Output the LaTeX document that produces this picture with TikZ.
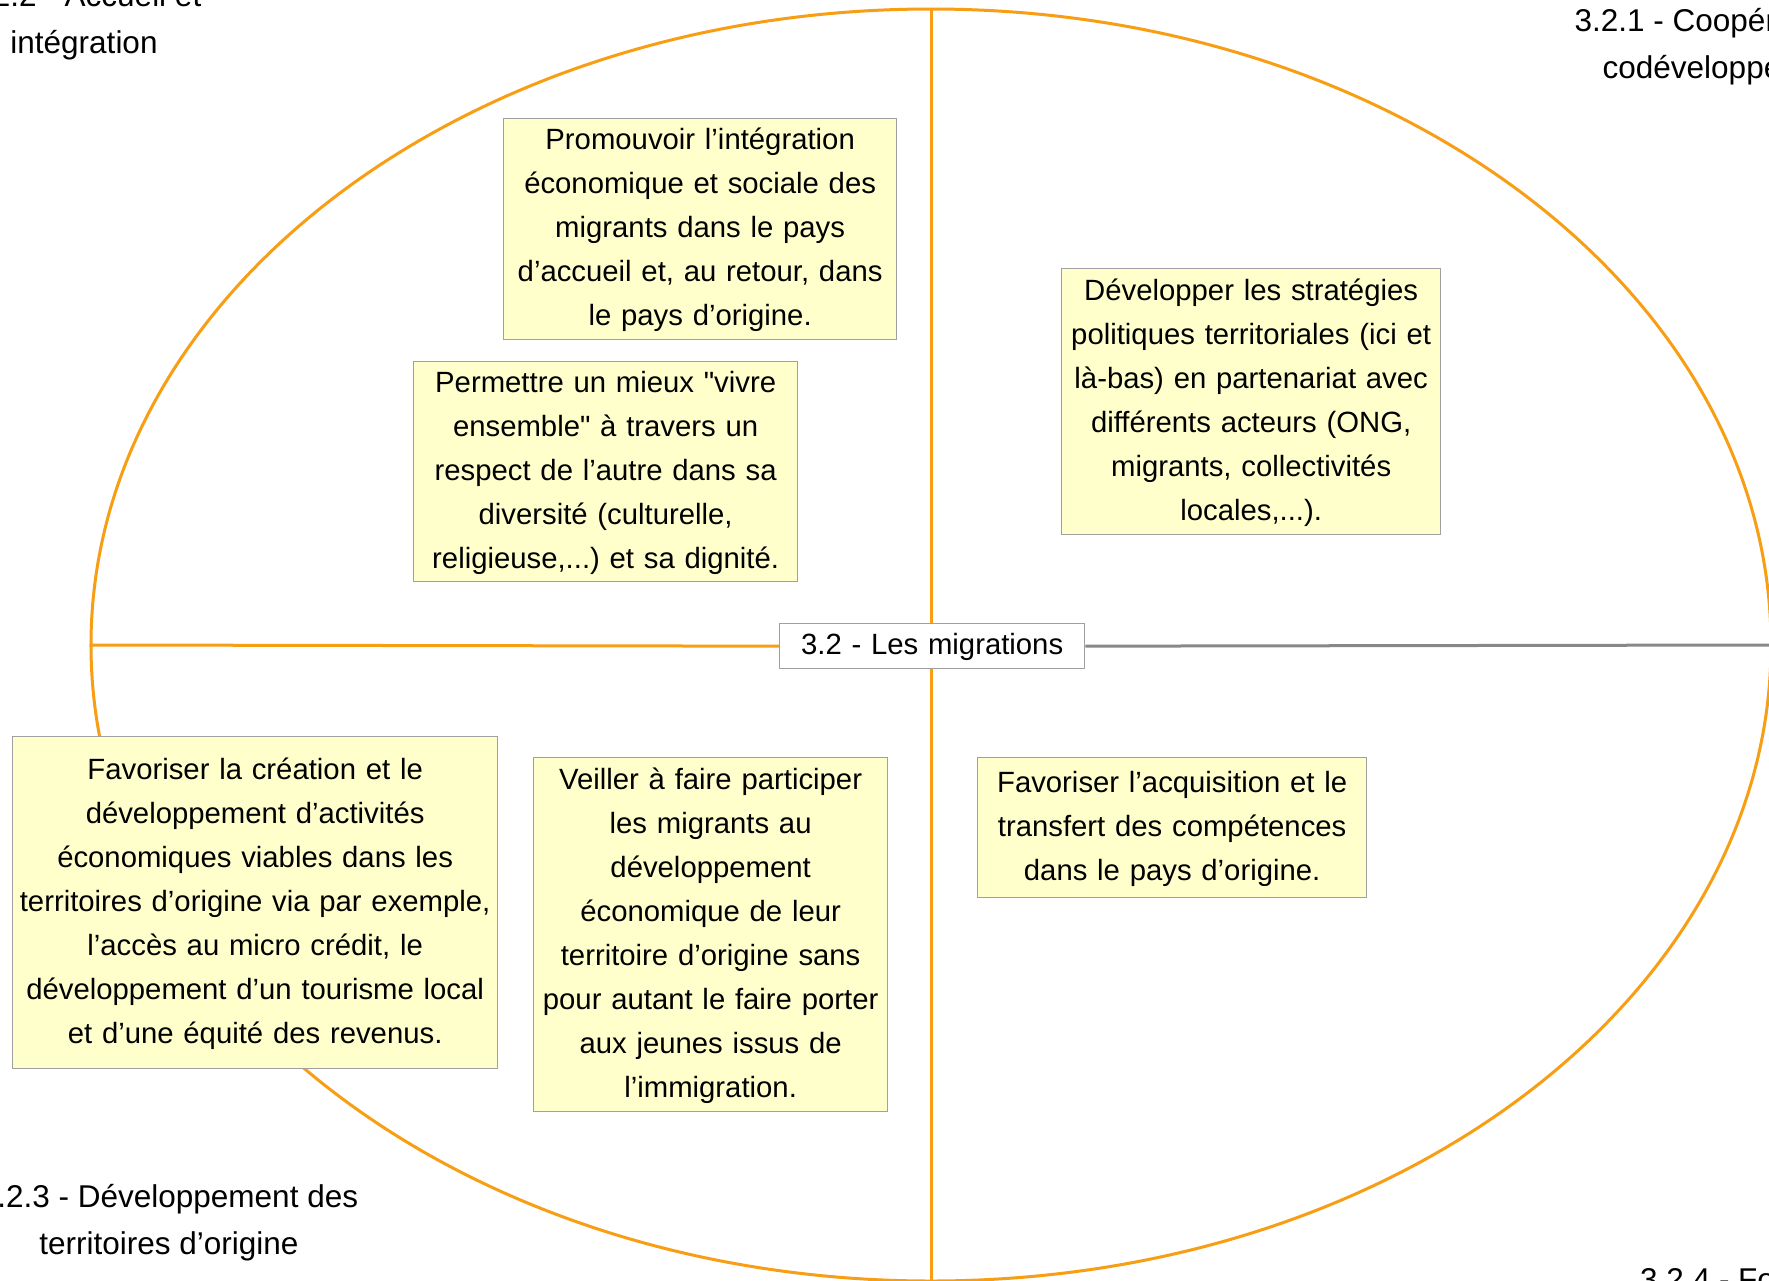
\documentclass[tikz,border=0pt]{standalone}
\usepackage{fontspec}
\setmainfont{Liberation Sans}
\usetikzlibrary{shapes.geometric,backgrounds}
\definecolor{ringorange}{RGB}{247,158,20}
\definecolor{linegrey}{RGB}{136,136,136}
\definecolor{boxgrey}{RGB}{160,160,160}
\definecolor{noteyellow}{RGB}{255,255,204}
\newcommand{\mystrut}{\rule[-9pt]{0pt}{35pt}}
\newcommand{\boxfont}{\fontsize{29.3pt}{44pt}\selectfont\frenchspacing}
\newcommand{\labfont}{\fontsize{31.5pt}{47pt}\selectfont\frenchspacing}
\newcommand{\dq}{\XeTeXglyph\XeTeXglyphindex "quotedbl"\relax}
\tikzset{
  note/.style={draw=boxgrey, fill=noteyellow, line width=1.3pt, inner xsep=0pt, inner ysep=0pt,
    align=center, font=\boxfont, anchor=north west},
  hub/.style={draw=boxgrey, fill=white, line width=1.3pt, inner xsep=0pt, inner ysep=0pt,
    align=center, font=\boxfont, anchor=north west},
  branchlabel/.style={inner sep=0pt, align=center, font=\labfont},
  ringline/.style={draw=ringorange, line width=3pt},
  greyline/.style={draw=linegrey, line width=3pt}
}
\begin{document}
\begin{tikzpicture}[x=1pt,y=-1pt]
\useasboundingbox (0,0) rectangle (1769,1280);

% central node
\node[hub, text width=305pt, minimum height=45pt] (hub) at (779,623) {\mystrut 3.2 - Les migrations};

% notes
\node[note, text width=393pt, minimum height=221pt] (noteA) at (503,118)
 {\mystrut Promouvoir l’intégration\\économique et sociale des\\migrants dans le pays\\d’accueil et, au retour, dans\\le pays d’origine.\mystrut};
\node[note, text width=384pt, minimum height=220pt] (noteB) at (413,361)
 {\mystrut Permettre un mieux \dq vivre\\ensemble\dq{} à travers un\\respect de l’autre dans sa\\diversité (culturelle,\\religieuse,...) et sa dignité.\mystrut};
\node[note, text width=379pt, minimum height=266pt] (noteC) at (1061,268)
 {\mystrut Développer les stratégies\\politiques territoriales (ici et\\là-bas) en partenariat avec\\différents acteurs (ONG,\\migrants, collectivités\\locales,...).\mystrut};
\node[note, text width=485pt, minimum height=332pt] (noteD) at (12,736)
 {\mystrut Favoriser la création et le\\développement d’activités\\économiques viables dans les\\territoires d’origine via par exemple,\\l’accès au micro crédit, le\\développement d’un tourisme local\\et d’une équité des revenus.\mystrut};
\node[note, text width=354pt, minimum height=354pt] (noteE) at (533,757)
 {\mystrut Veiller à faire participer\\les migrants au\\développement\\économique de leur\\territoire d’origine sans\\pour autant le faire porter\\aux jeunes issus de\\l’immigration.\mystrut};
\node[note, text width=389pt, minimum height=140pt] (noteF) at (977,757)
 {\mystrut Favoriser l’acquisition et le\\transfert des compétences\\dans le pays d’origine.\mystrut};

% branch labels (anchor = baseline of the last line)
\node[branchlabel, anchor=base] (labTL) at (84,53) {3.2.2 - Accueil et\\intégration};
\node[branchlabel, anchor=base] (labTR) at (1727,78) {3.2.1 - Coopération et\\codéveloppement};
\node[branchlabel, anchor=base] (labBL) at (169,1254) {3.2.3 - Développement des\\territoires d’origine};
\node[branchlabel, anchor=base west] (labBR) at (1640,1290) {3.2.4 - Formation};

\coordinate (rightend) at (1769,645);

\begin{scope}[on background layer]
  \fill[white] (0,0) rectangle (1769,1280);
  \node[ellipse, ringline, minimum width=1680pt, minimum height=1272pt, inner sep=0pt] (ring) at (931,645) {};
  \draw[ringline] (ring.north) -- (ring.south);
  \draw[ringline] (ring.west) -- (hub.west);
  \draw[greyline] (hub.east) -- (rightend);
\end{scope}
\end{tikzpicture}
\end{document}
